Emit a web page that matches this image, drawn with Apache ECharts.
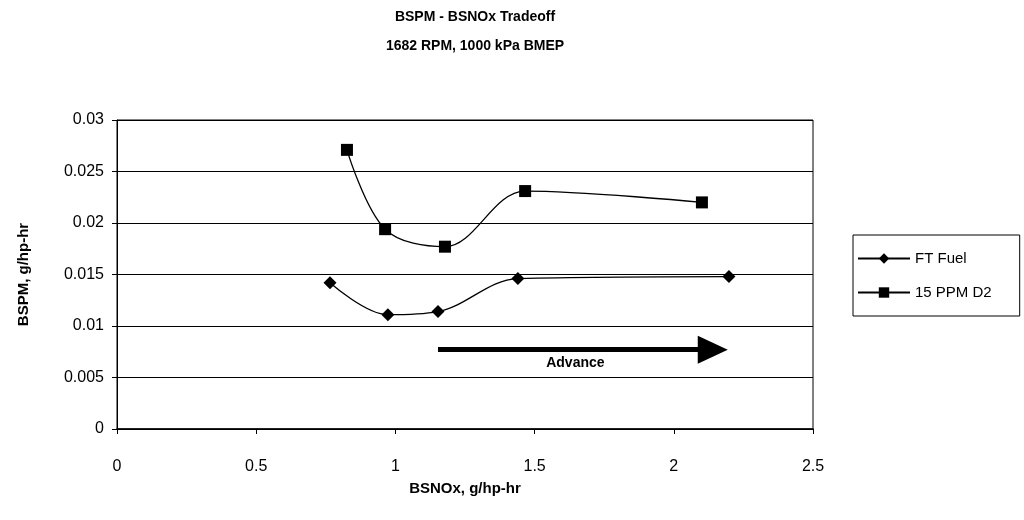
<!DOCTYPE html>
<html>
<head>
<meta charset="utf-8">
<script src="https://cdn.jsdelivr.net/npm/echarts@6/dist/echarts.min.js"></script>
<style>html,body{margin:0;padding:0;background:#fff}#c{width:1024px;height:520px}</style>
</head>
<body>
<div id="c"></div>
<script>
const titleLines = ["BSPM - BSNOx Tradeoff", "1682 RPM, 1000 kPa BMEP"];
const xAxisName = "BSNOx, g/hp-hr";
const yAxisName = "BSPM, g/hp-hr";
const seriesNames = ["FT Fuel", "15 PPM D2"];
const ftX = [0.765, 0.973, 1.153, 1.44, 2.198];
const ftY = [0.0142, 0.0111, 0.0114, 0.0146, 0.0148];
const d2X = [0.826, 0.963, 1.178, 1.466, 2.101];
const d2Y = [0.0271, 0.0194, 0.0177, 0.0231, 0.0220];
const arrowStart = [1.153, 0.0077];
const arrowEnd = [2.14, 0.0077];
const arrowLabel = "Advance";
const xTicks = [0, 0.5, 1, 1.5, 2, 2.5];
const yTicks = [0, 0.005, 0.01, 0.015, 0.02, 0.025, 0.03];

const FONT = "Liberation Sans, Arial, sans-serif";
const chart = echarts.init(document.getElementById('c'));
const zip = (a, b) => a.map((v, i) => [v, b[i]]);

chart.setOption({
  animation: false,
  backgroundColor: '#fff',
  title: {
    text: titleLines.join('\n'),
    left: 470, top: -2, textAlign: 'center',
    textStyle: { fontFamily: FONT, fontSize: 14, fontWeight: 'bold', color: '#000', lineHeight: 29 }
  },
  grid: { left: 117, right: 211, top: 120, bottom: 91, show: true, borderColor: '#000', borderWidth: 1 },
  legend: {
    orient: 'vertical', left: 853, top: 235,
    padding: [16, 28, 16, 4], itemGap: 19,
    borderColor: '#000', borderWidth: 1,
    itemWidth: 52, itemHeight: 13,
    textStyle: { fontFamily: FONT, fontSize: 15, color: '#000' },
    data: seriesNames
  },
  xAxis: {
    type: 'value', min: xTicks[0], max: xTicks[xTicks.length - 1], interval: 0.5,
    name: xAxisName, nameLocation: 'middle', nameGap: 52,
    nameTextStyle: { fontFamily: FONT, fontSize: 15, fontWeight: 'bold', color: '#000' },
    axisLine: { show: true, lineStyle: { color: '#000', width: 1.5 } },
    axisTick: { show: true, length: 5, lineStyle: { color: '#000' } },
    splitLine: { show: false },
    axisLabel: { fontFamily: FONT, fontSize: 16, color: '#000', margin: 30 }
  },
  yAxis: {
    type: 'value', min: yTicks[0], max: yTicks[yTicks.length - 1], interval: 0.005,
    name: yAxisName, nameLocation: 'middle', nameGap: 86,
    nameTextStyle: { fontFamily: FONT, fontSize: 15, fontWeight: 'bold', color: '#000' },
    axisLine: { show: true, lineStyle: { color: '#000', width: 1 } },
    axisTick: { show: true, length: 5, lineStyle: { color: '#000' } },
    splitLine: { show: true, lineStyle: { color: '#000', width: 1 } },
    axisLabel: { fontFamily: FONT, fontSize: 16, color: '#000', margin: 13 }
  },
  series: [
    {
      name: seriesNames[0], type: 'line', smooth: 0.35,
      data: zip(ftX, ftY),
      symbol: 'diamond', symbolSize: 13, showAllSymbol: true,
      lineStyle: { color: '#000', width: 1.3 },
      itemStyle: { color: '#000' }
    },
    {
      name: seriesNames[1], type: 'line', smooth: 0.35,
      data: zip(d2X, d2Y),
      symbol: 'rect', symbolSize: 12,
      lineStyle: { color: '#000', width: 1.3 },
      itemStyle: { color: '#000' },
      markLine: {
        silent: true, symbol: ['none', 'triangle'], symbolSize: [28, 30],
        lineStyle: { color: '#000', width: 5, type: 'solid' },
        label: {
          show: true, position: 'insideMiddleBottom', formatter: arrowLabel,
          fontFamily: FONT, fontSize: 14, fontWeight: 'bold', color: '#000', distance: 6
        },
        data: [[{ coord: arrowStart }, { coord: arrowEnd }]]
      }
    }
  ]
});
</script>
</body>
</html>
